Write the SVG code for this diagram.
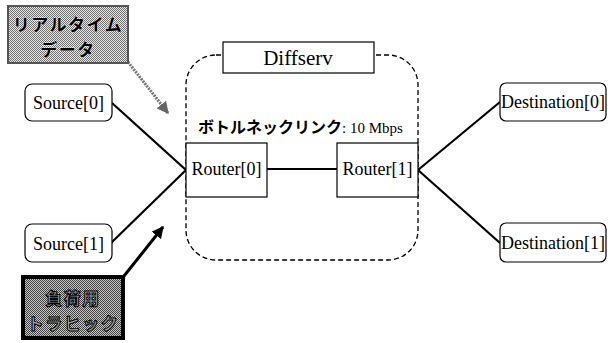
<svg xmlns="http://www.w3.org/2000/svg" width="608" height="343" viewBox="0 0 608 343">
<defs>
<pattern id="dots" width="2" height="2" patternUnits="userSpaceOnUse"><rect width="2" height="2" fill="#e8e8e8"/><rect width="1" height="1" fill="#707070"/><rect x="1" y="1" width="1" height="1" fill="#707070"/></pattern>
<pattern id="dots2" width="2" height="2" patternUnits="userSpaceOnUse"><rect width="2" height="2" fill="#c8c8c8"/><rect width="1" height="1" fill="#404040"/><rect x="1" y="1" width="1" height="1" fill="#404040"/></pattern>
<marker id="ahGray" viewBox="0 0 10 10" refX="9" refY="5" markerWidth="4" markerHeight="4" orient="auto"><path d="M0,0 L10,5 L0,10 z" fill="#666"/></marker>
<marker id="ahBlack" viewBox="0 0 10 10" refX="9" refY="5" markerWidth="4" markerHeight="4" orient="auto"><path d="M0,0 L10,5 L0,10 z" fill="#000"/></marker>
</defs>
<style>
.en{font-family:"Liberation Serif","Times New Roman",serif;font-size:18px;fill:#000;text-anchor:middle}
.jp{font-family:"Noto Sans CJK JP","Noto Sans",sans-serif;font-weight:bold}
.box{fill:#fff;stroke:#000;stroke-width:1.2}
.link{stroke:#000;stroke-width:2.2;fill:none}
</style>
<rect width="608" height="343" fill="#fff"/>

<g id="diffserv">
<rect x="186" y="55" width="232" height="205" rx="30" ry="30" fill="none" stroke="#000" stroke-width="1.3" stroke-dasharray="5,3"/>
<rect x="223" y="42" width="151" height="31" class="box"/>
<text x="298" y="65" class="en" style="font-size:21px">Diffserv</text>
<text x="198" y="133"><tspan class="jp" font-size="16">ボトルネックリンク</tspan><tspan style="font-family:'Liberation Serif',serif;font-size:15px">: 10 Mbps</tspan></text>
</g>

<g id="connectors">
<line x1="112" y1="103" x2="186" y2="170" class="link"/>
<line x1="111" y1="243" x2="186" y2="170" class="link"/>
<line x1="267" y1="169" x2="337" y2="169" class="link"/>
<line x1="418" y1="170" x2="500" y2="102" class="link"/>
<line x1="418" y1="170" x2="500" y2="243" class="link"/>
<line x1="128" y1="62" x2="168" y2="113" stroke="#777" stroke-width="3" stroke-dasharray="2,1" marker-end="url(#ahGray)"/>
<line x1="124" y1="276" x2="163" y2="227" stroke="#000" stroke-width="3" marker-end="url(#ahBlack)"/>
</g>

<g id="realtime">
<rect x="8" y="6" width="120" height="57" fill="url(#dots)" stroke="#555" stroke-width="2"/>
<text class="jp" font-size="17" letter-spacing="1.5" text-anchor="middle" fill="#000" stroke="#fff" stroke-width="0.6" paint-order="stroke"><tspan x="68" y="31">リアルタイム</tspan><tspan x="68" y="56">データ</tspan></text>
</g>

<g id="load">
<rect x="23" y="277" width="100" height="61" fill="url(#dots2)" stroke="#000" stroke-width="4"/>
<text class="jp" font-size="17" letter-spacing="1.5" text-anchor="middle" fill="#aaa" stroke="#000" stroke-width="1"><tspan x="73" y="305">負荷用</tspan><tspan x="73" y="330">トラヒック</tspan></text>
</g>

<g id="source0">
<rect x="25" y="84" width="87" height="37" rx="7" ry="7" class="box"/>
<text x="68.5" y="109" class="en">Source[0]</text>
</g>
<g id="source1">
<rect x="25" y="224" width="87" height="38" rx="7" ry="7" class="box"/>
<text x="68.5" y="250" class="en">Source[1]</text>
</g>
<g id="router0">
<rect x="186" y="143" width="81" height="54" class="box"/>
<text x="226.5" y="175" class="en">Router[0]</text>
</g>
<g id="router1">
<rect x="337" y="143" width="81" height="54" class="box"/>
<text x="377.5" y="175" class="en">Router[1]</text>
</g>
<g id="dest0">
<rect x="500" y="83" width="106" height="38" rx="6" ry="6" class="box"/>
<text x="553" y="108" class="en">Destination[0]</text>
</g>
<g id="dest1">
<rect x="500" y="223" width="106" height="39" rx="6" ry="6" class="box"/>
<text x="553" y="249" class="en">Destination[1]</text>
</g>
</svg>
